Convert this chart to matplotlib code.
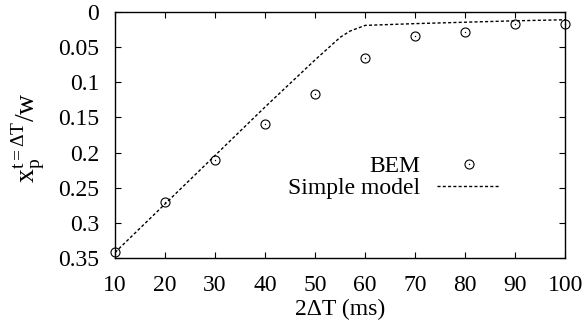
import numpy as np
import matplotlib
matplotlib.use('Agg')
import matplotlib.pyplot as plt
from matplotlib.legend_handler import HandlerTuple

plt.rcParams['font.family'] = ['Liberation Serif', 'DejaVu Serif']
plt.rcParams['mathtext.fontset'] = 'custom'
plt.rcParams['mathtext.rm'] = 'Liberation Serif'
plt.rcParams['mathtext.it'] = 'Liberation Serif:italic'

# BEM results
bem_t = [10, 20, 30, 40, 50, 60, 70, 80, 90, 100]
bem_x = [0.342, 0.270, 0.210, 0.159, 0.116, 0.065, 0.034, 0.028, 0.017, 0.017]

# simple model curve
model_t = [10, 20, 30, 40, 50, 55, 57, 60, 70, 80, 90, 100]
model_x = [0.342, 0.273, 0.204, 0.135, 0.068, 0.036, 0.027, 0.019, 0.0165, 0.0145, 0.0125, 0.011]

xticks = [10, 20, 30, 40, 50, 60, 70, 80, 90, 100]
yticks = [0, 0.05, 0.1, 0.15, 0.2, 0.25, 0.3, 0.35]
ytick_labels = ['0', '0.05', '0.1', '0.15', '0.2', '0.25', '0.3', '0.35']

fig = plt.figure(figsize=(5.87, 3.25), dpi=100)
ax = fig.add_axes([0.196, 0.206, 0.767, 0.757])

ring, = ax.plot(bem_t, bem_x, 'o', ms=6.5, mfc='none', mec='black', mew=0.8, clip_on=False, ls='none')
dot, = ax.plot(bem_t, bem_x, 'o', ms=1.0, mfc='black', mec='black', mew=0, clip_on=False, ls='none')
line, = ax.plot(model_t, model_x, color='black', lw=1.0, dashes=(2.2, 1.6))

ax.set_xlim(10, 100)
ax.set_ylim(0.35, 0)
ax.set_xticks(xticks)
ax.set_yticks(yticks)
ax.set_yticklabels(ytick_labels)
ax.tick_params(direction='in', length=4, width=0.8, top=True, right=True, labelsize=17)
ax.tick_params(axis='y', pad=11.5)
ax.tick_params(axis='x', pad=12.5)
for s in ax.spines.values():
    s.set_linewidth(1.0)

ax.set_xlabel('2\u0394T (ms)', fontsize=17, labelpad=0)
ax.xaxis.set_label_coords(0.5, -0.165)
ax.set_ylabel(r'$\mathrm{x_p^{t=\Delta T}/w}$', fontsize=20)
ax.yaxis.set_label_coords(-0.152, 0.49)

ax.legend([(ring, dot), line], ['BEM', 'Simple model'], frameon=False, markerfirst=False,
          loc='center right', bbox_to_anchor=(0.856, 0.329), fontsize=17,
          borderpad=0, borderaxespad=0,
          handlelength=2.67, handletextpad=0.72, labelspacing=0.02,
          handler_map={tuple: HandlerTuple(ndivide=1)})

fig.savefig('out.png', dpi=100)
